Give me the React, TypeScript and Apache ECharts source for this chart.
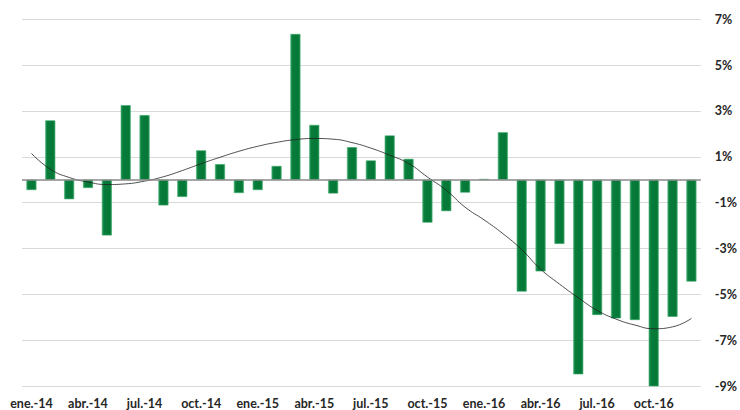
import React, { useEffect, useRef } from "react";
import * as echarts from "echarts";

const months = ["ene", "feb", "mar", "abr", "may", "jun", "jul", "ago", "sep", "oct", "nov", "dic"];
const years = ["14", "15", "16"];
const categories: string[] = years.flatMap((y) => months.map((m) => `${m}.-${y}`));

const barValues = [
  -0.45, 2.59, -0.85, -0.36, -2.43, 3.25, 2.82, -1.12, -0.75, 1.28, 0.68, -0.58,
  -0.45, 0.6, 6.36, 2.39, -0.6, 1.42, 0.84, 1.93, 0.91, -1.87, -1.37, -0.56,
  0.03, 2.07, -4.88, -4.0, -2.8, -8.49, -5.9, -6.05, -6.12, -9.1, -5.98, -4.44,
];

const trendValues = [
  1.15, 0.46, 0.1, -0.1, -0.21, -0.18, -0.06, 0.13, 0.4, 0.7, 0.98, 1.24,
  1.46, 1.63, 1.75, 1.8, 1.77, 1.62, 1.38, 1.07, 0.71, 0.12, -0.46, -1.2,
  -1.75, -2.35, -3.05, -3.9, -4.55, -5.15, -5.7, -6.08, -6.34, -6.5, -6.42, -6.05,
];

// tick labels shown on the right axis (odd percentages)
const yTickLabels = ["-9%", "-7%", "-5%", "-3%", "-1%", "1%", "3%", "5%", "7%"];

export default function App() {
  const ref = useRef<HTMLDivElement>(null);
  useEffect(() => {
    if (!ref.current) return;
    const chart = echarts.init(ref.current, null, { renderer: "svg" });
    const labelFont = {
      fontFamily: "Lato",
      fontWeight: "bold" as const,
      fontSize: 12.5,
      color: "#262626",
    };
    chart.setOption({
      animation: false,
      backgroundColor: "#ffffff",
      grid: { left: 22, right: 36, top: 19.3, bottom: 24, containLabel: false },
      xAxis: {
        type: "category",
        data: categories,
        axisLine: { show: false },
        axisTick: { show: false },
        axisLabel: { ...labelFont, interval: 2, margin: 11 },
        splitLine: { show: false },
      },
      yAxis: [
        {
          type: "value",
          min: -9,
          max: 7,
          show: false,
          position: "right",
          splitLine: { show: false },
        },
        {
          type: "value",
          min: -8,
          max: 8,
          interval: 2,
          position: "right",
          axisLine: { show: false },
          axisTick: { show: false },
          axisLabel: {
            ...labelFont,
            margin: 14,
            align: "left",
            formatter: (v: number) => yTickLabels[Math.round((v + 8) / 2)] ?? "",
          },
          splitLine: { show: true, lineStyle: { color: "#d9d9d9", width: 1 } },
        },
      ],
      series: [
        {
          type: "bar",
          data: barValues,
          yAxisIndex: 0,
          barWidth: 10,
          itemStyle: {
            color: new echarts.graphic.LinearGradient(0, 0, 1, 0, [
              { offset: 0, color: "#2a9a5a" },
              { offset: 0.2, color: "#087c3b" },
              { offset: 0.8, color: "#057836" },
              { offset: 1, color: "#1c8c4c" },
            ]),
            borderColor: "#3aa86a",
            borderWidth: 0.6,
          },
          markLine: {
            silent: true,
            symbol: ["none", "none"],
            label: { show: false },
            lineStyle: { color: "#8a8a8a", width: 1.5, type: "solid" },
            data: [{ yAxis: 0 }],
          },
          z: 2,
        },
        {
          type: "line",
          data: trendValues,
          yAxisIndex: 0,
          smooth: true,
          symbol: "none",
          lineStyle: { color: "#222222", width: 0.8 },
          z: 3,
        },
      ],
    });
    return () => chart.dispose();
  }, []);
  return (
    <div
      ref={ref}
      style={{ position: "fixed", left: 0, top: 0, width: 740, height: 410 }}
    />
  );
}
